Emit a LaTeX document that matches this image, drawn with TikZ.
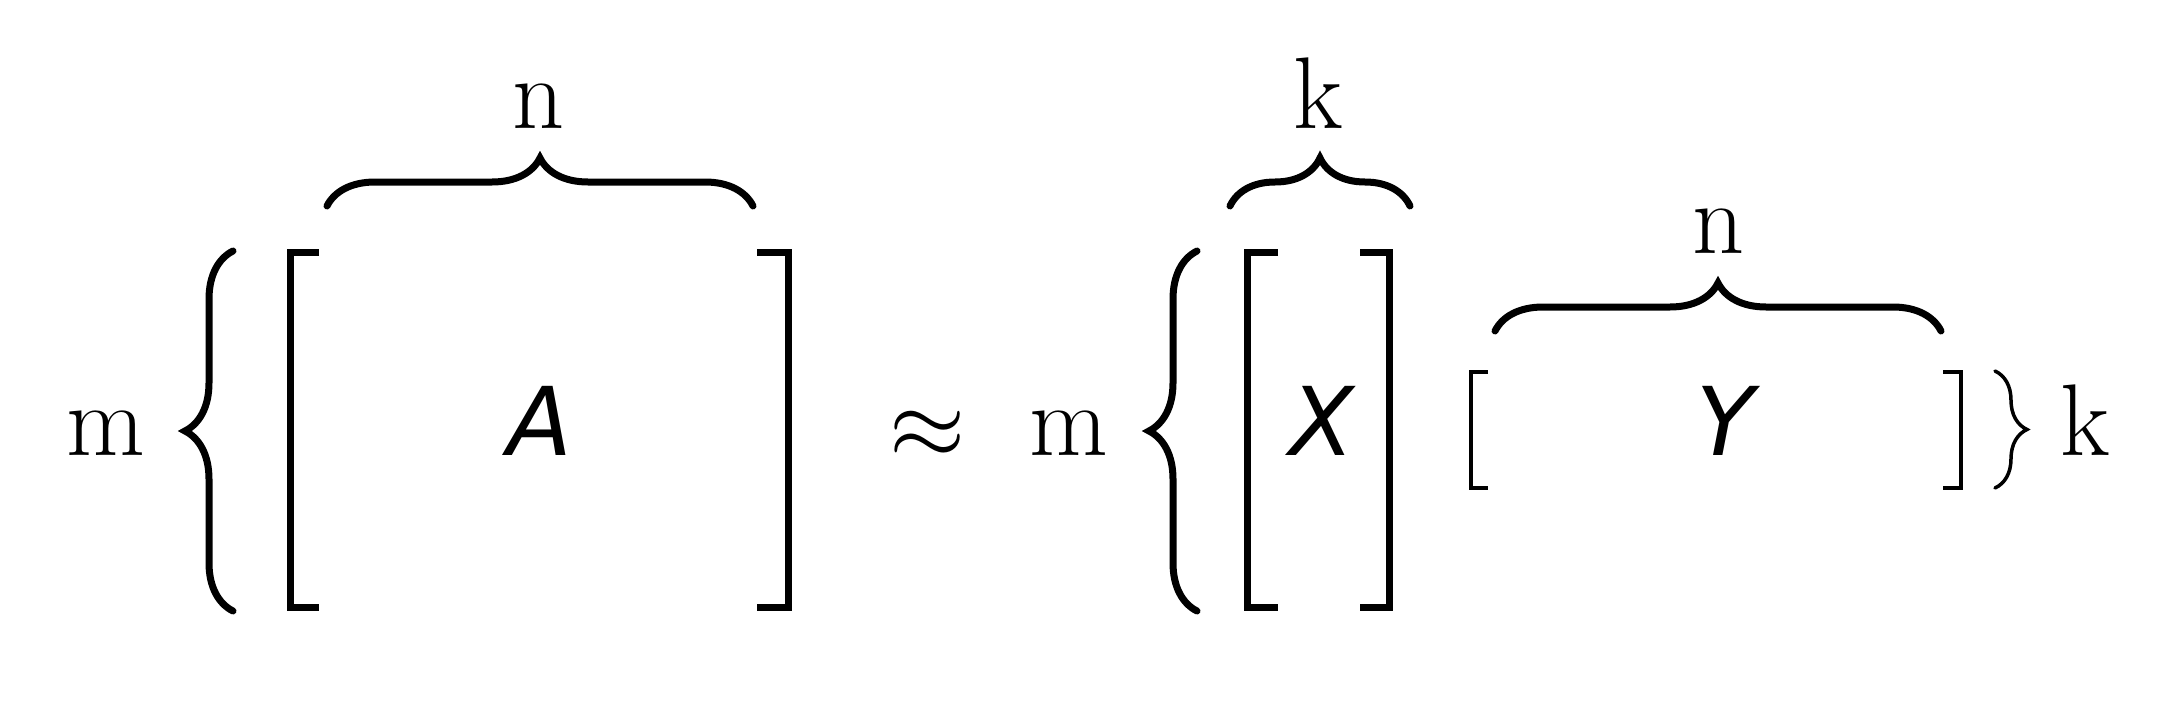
\documentclass[tikz,border=0pt]{standalone}
\usepackage{fontspec}
\newfontfamily\matfont{DejaVu Sans}
\usetikzlibrary{decorations.pathreplacing}

\tikzset{
	bigbrace/.style={decorate,decoration={brace,amplitude=0.48cm},line width=0.07cm,line cap=round},
	smallbrace/.style={decorate,decoration={brace,amplitude=0.32cm},line width=0.035cm,line cap=round},
	bigbracket/.style={line width=0.07cm,line join=miter},
	smallbracket/.style={line width=0.04cm,line join=miter},
	lab/.style={anchor=base,inner sep=0pt,font=\fontsize{29}{35}\selectfont},
	mat/.style={anchor=base,inner sep=0pt,font=\fontsize{27}{33}\selectfont\matfont\itshape}
}

\begin{document}
\begin{tikzpicture}

		\useasboundingbox (0,0) rectangle (21.76,7.18);

		\node[lab] (m1) at (1.06,2.63) {m};
		\node[mat] (A) at (5.40,2.63) {A};
		\node[lab] (n1) at (5.39,5.90) {n};
		\node[lab] (approx) at (9.28,2.60) {\scalebox{1.12}{$\approx$}};
		\node[lab] (m2) at (10.69,2.63) {m};
		\node[mat] (X) at (13.22,2.63) {X};
		\node[lab] (k1) at (13.18,5.90) {k};
		\node[mat] (Y) at (17.25,2.63) {Y};
		\node[lab] (n2) at (17.19,4.65) {n};
		\node[lab] (k2) at (20.85,2.63) {k};

		\draw[bigbracket] (3.19,4.655) -- (2.905,4.655) -- (2.905,1.105) -- (3.19,1.105);
		\draw[bigbracket] (7.57,4.655) -- (7.885,4.655) -- (7.885,1.105) -- (7.57,1.105);
		\draw[bigbracket] (12.78,4.655) -- (12.475,4.655) -- (12.475,1.105) -- (12.78,1.105);
		\draw[bigbracket] (13.60,4.655) -- (13.895,4.655) -- (13.895,1.105) -- (13.60,1.105);
		\draw[smallbracket] (14.88,3.46) -- (14.71,3.46) -- (14.71,2.30) -- (14.88,2.30);
		\draw[smallbracket] (19.43,3.46) -- (19.61,3.46) -- (19.61,2.30) -- (19.43,2.30);

		\coordinate (mAbot) at (2.33,1.07);
		\coordinate (mAtop) at (2.33,4.67);
		\coordinate (nAleft) at (3.27,5.12);
		\coordinate (nAright) at (7.53,5.12);
		\coordinate (mXbot) at (11.97,1.07);
		\coordinate (mXtop) at (11.97,4.67);
		\coordinate (kXleft) at (12.30,5.12);
		\coordinate (kXright) at (14.10,5.12);
		\coordinate (nYleft) at (14.95,3.87);
		\coordinate (nYright) at (19.41,3.87);
		\coordinate (kYtop) at (19.95,3.47);
		\coordinate (kYbot) at (19.95,2.30);

		\draw[bigbrace] (mAbot) -- (mAtop);
		\draw[bigbrace] (nAleft) -- (nAright);
		\draw[bigbrace] (mXbot) -- (mXtop);
		\draw[bigbrace] (kXleft) -- (kXright);
		\draw[bigbrace] (nYleft) -- (nYright);
		\draw[smallbrace] (kYtop) -- (kYbot);

	\end{tikzpicture}
\end{document}
